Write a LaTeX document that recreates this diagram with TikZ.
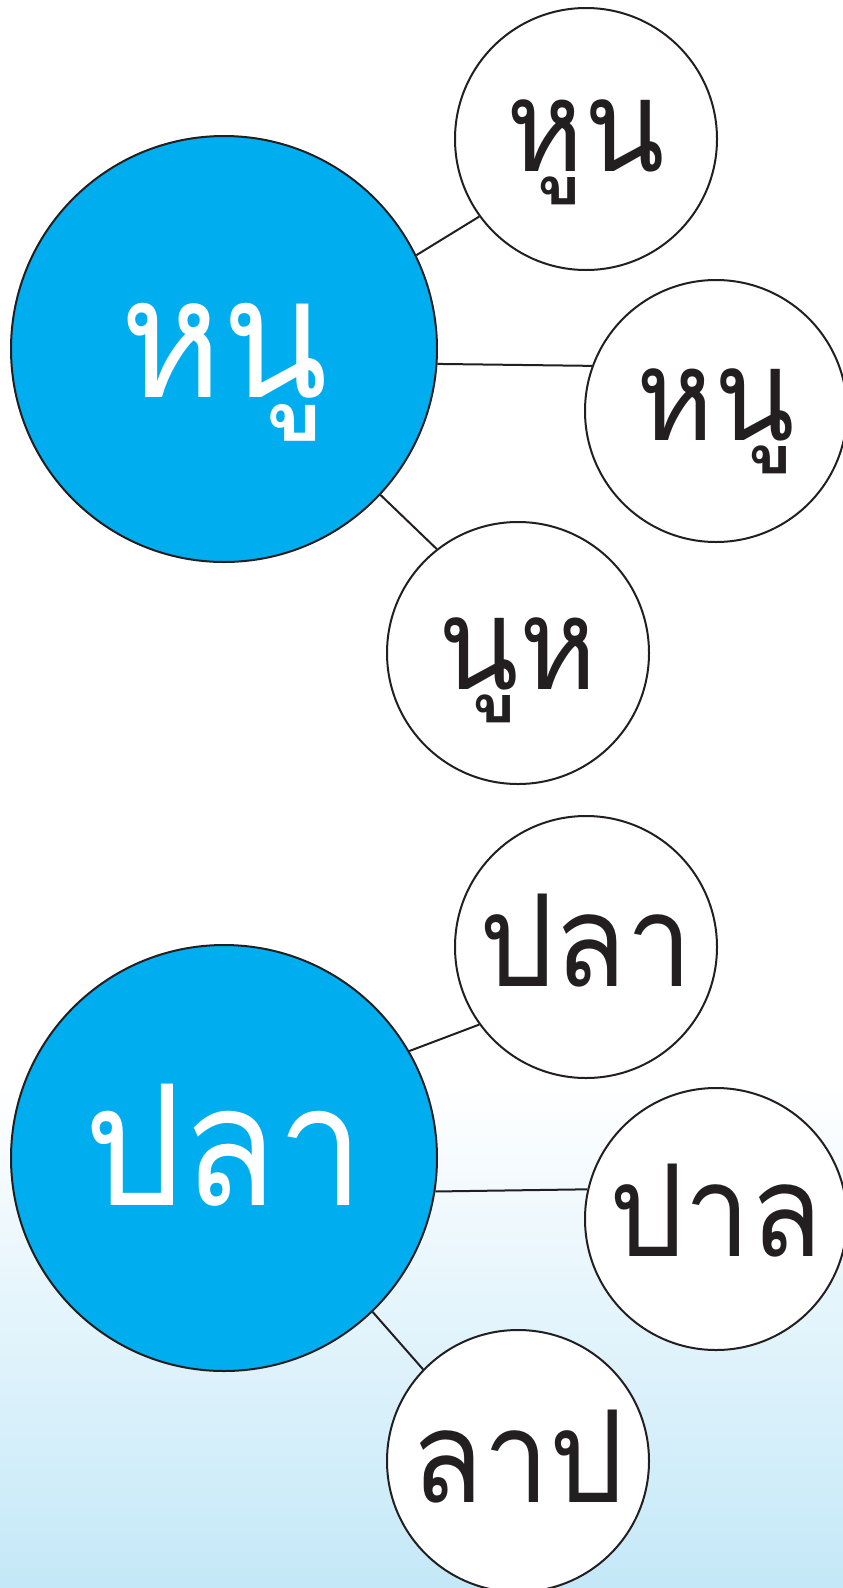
\documentclass[tikz,border=0pt]{standalone}
\usepackage{fontspec}
\usepackage{xcolor}
\newfontfamily\thaifont[Script=Thai,FakeStretch=0.92]{Loma}
\usetikzlibrary{positioning}
\definecolor{wordblue}{HTML}{00AEEF}
\definecolor{inkline}{HTML}{231F20}
\definecolor{paleblue}{HTML}{C4E8F8}
\tikzset{
  bigword/.style={circle, draw=inkline, line width=2pt, fill=wordblue, text=white,
    minimum size=426pt, inner sep=0pt, text depth=0pt,
    font=\thaifont\fontsize{168}{170}\selectfont},
  smallword/.style={circle, draw=inkline, line width=2pt, fill=white, text=inkline,
    minimum size=262pt, inner sep=0pt, text depth=0pt,
    font=\thaifont\fontsize{128}{130}\selectfont},
  link/.style={draw=inkline, line width=2pt}
}
\begin{document}
\begin{tikzpicture}[x=1pt,y=-1pt]
  % background
  \clip (0,0) rectangle (843,1588);
  \fill[white] (0,0) rectangle (843,1588);
  \shade[top color=white, bottom color=paleblue] (0,1080) rectangle (843,1588);

  % first word
  \node [bigword, text height=96pt] (b1) at (224,349) {หนู};
  \node [smallword, text height=64pt] (hun) at (586,139) {หูน};
  \node [smallword, text height=58pt] (nu) at (716,411) {หนู};
  \node [smallword, text height=72pt] (nuh) at (518,653) {นูห};

  % second word
  \node [bigword, text height=94pt] (b2) at (224,1158) {ปลา};
  \node [smallword, text height=78pt] (pla) at (586,947) {ปลา};
  \node [smallword, text height=74pt] (pal) at (716,1219) {ปาล};
  \node [smallword, text height=82pt] (lap) at (518,1461) {ลาป};

  \path[link]
  (b1.26) edge (hun.216)
  (b1.-4.7) edge (nu.160)
  (b1.-43) edge (nuh.128)
  (b2.30) edge (pla.216)
  (b2.-9.0) edge (pal.167.5)
  (b2.-46) edge (lap.136);
\end{tikzpicture}
\end{document}
